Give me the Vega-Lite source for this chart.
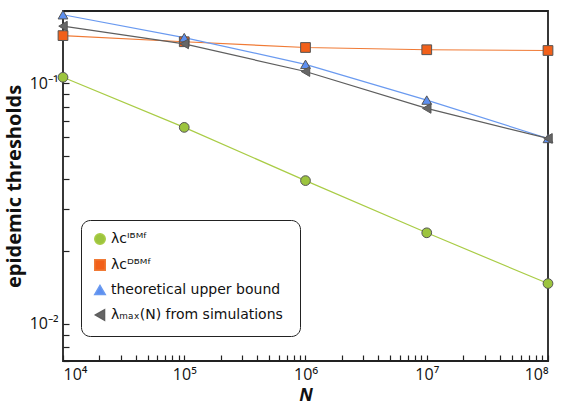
{
  "$schema": "https://vega.github.io/schema/vega-lite/v6.json",
  "width": 485,
  "height": 350,
  "padding": {"left": 4, "top": 8, "right": 5, "bottom": 0},
  "config": {
    "font": "Open Sans",
    "view": {"stroke": "#222", "strokeWidth": 1.8}
  },
  "data": {
    "values": [
      {"N": 10000, "v": 0.106, "s": "IBMF"},
      {"N": 100000, "v": 0.0656, "s": "IBMF"},
      {"N": 1000000, "v": 0.0394, "s": "IBMF"},
      {"N": 10000000, "v": 0.0239, "s": "IBMF"},
      {"N": 100000000, "v": 0.0147, "s": "IBMF"},
      {"N": 10000, "v": 0.158, "s": "DBMF"},
      {"N": 100000, "v": 0.149, "s": "DBMF"},
      {"N": 1000000, "v": 0.141, "s": "DBMF"},
      {"N": 10000000, "v": 0.138, "s": "DBMF"},
      {"N": 100000000, "v": 0.137, "s": "DBMF"},
      {"N": 10000, "v": 0.193, "s": "upper"},
      {"N": 100000, "v": 0.155, "s": "upper"},
      {"N": 1000000, "v": 0.120, "s": "upper"},
      {"N": 10000000, "v": 0.0852, "s": "upper"},
      {"N": 100000000, "v": 0.059, "s": "upper"},
      {"N": 10000, "v": 0.173, "s": "sim"},
      {"N": 100000, "v": 0.146, "s": "sim"},
      {"N": 1000000, "v": 0.112, "s": "sim"},
      {"N": 10000000, "v": 0.0787, "s": "sim"},
      {"N": 100000000, "v": 0.059, "s": "sim"}
    ]
  },
  "encoding": {
    "x": {"field": "N", "type": "quantitative",
      "scale": {"type": "log", "domain": [10000, 100000000]},
      "title": "N",
      "axis": {
        "orient": "bottom", "domain": false, "grid": false, "zindex": 1, "ticks": true,
        "values": [10000,20000,30000,40000,50000,60000,70000,80000,90000,100000,200000,300000,400000,500000,600000,700000,800000,900000,1000000,2000000,3000000,4000000,5000000,6000000,7000000,8000000,9000000,10000000,20000000,30000000,40000000,50000000,60000000,70000000,80000000,90000000,100000000],
        "labelExpr": "abs(log(datum.value)/LN10 - round(log(datum.value)/LN10)) < 0.001 ? '10' + ['⁰','¹','²','³','⁴','⁵','⁶','⁷','⁸','⁹'][round(log(datum.value)/LN10)] : ''",
        "tickSize": -6, "tickColor": "#222", "tickWidth": 1.2,
        "labelFontSize": 16, "labelColor": "#111", "labelPadding": 11,
        "titleFontSize": 18, "titleFontWeight": "bold", "titleFontStyle": "italic", "titleColor": "#111", "titlePadding": 4
      }},
    "y": {"field": "v", "type": "quantitative",
      "scale": {"type": "log", "domain": [0.007, 0.2]},
      "title": "epidemic thresholds",
      "axis": {
        "orient": "left", "domain": false, "grid": false, "zindex": 1, "ticks": true,
        "values": [0.007,0.008,0.009,0.01,0.02,0.03,0.04,0.05,0.06,0.07,0.08,0.09,0.1,0.2],
        "labelExpr": "abs(log(datum.value)/LN10 - round(log(datum.value)/LN10)) < 0.001 ? '10⁻' + ['⁰','¹','²','³','⁴','⁵','⁶','⁷','⁸','⁹'][-round(log(datum.value)/LN10)] : ''",
        "tickSize": -6, "tickColor": "#222", "tickWidth": 1.2,
        "labelFontSize": 16, "labelColor": "#111", "labelPadding": 11,
        "titleFontSize": 20, "titleFontWeight": "bold", "titleColor": "#111", "titlePadding": 5
      }}
  },
  "layer": [
    {
      "mark": {"type": "line", "strokeWidth": 1.2},
      "encoding": {
        "stroke": {"field": "s", "type": "nominal",
          "scale": {"domain": ["IBMF", "DBMF", "upper", "sim"], "range": ["#a9cc45", "#f07a35", "#6a9af0", "#5e5e5e"]},
          "legend": {
            "orient": "none", "legendX": 18, "legendY": 209, "title": null,
            "strokeColor": "#222", "cornerRadius": 9, "padding": 12, "fillColor": "white",
            "labelFont": "DejaVu Sans", "labelFontSize": 14, "labelLimit": 320, "labelColor": "#111", "symbolSize": 110, "rowPadding": 8,
            "labelExpr": "datum.value == 'IBMF' ? 'λcᴵᴮᴹᶠ' : datum.value == 'DBMF' ? 'λcᴰᴮᴹᶠ' : datum.value == 'upper' ? 'theoretical upper bound' : 'λₘₐₓ(N)  from simulations'"
          }}
      }
    },
    {
      "mark": {"type": "point", "filled": true, "opacity": 1, "size": 95, "stroke": "#555", "strokeWidth": 1},
      "encoding": {
        "fill": {"field": "s", "type": "nominal",
          "scale": {"domain": ["IBMF", "DBMF", "upper", "sim"], "range": ["#9cc43e", "#f2601a", "#5d8ff0", "#666666"]},
          "legend": {
            "orient": "none", "legendX": 18, "legendY": 209, "title": null,
            "strokeColor": "#222", "cornerRadius": 9, "padding": 12, "fillColor": "white",
            "labelFont": "DejaVu Sans", "labelFontSize": 14, "labelLimit": 320, "labelColor": "#111", "symbolSize": 110, "rowPadding": 8,
            "labelExpr": "datum.value == 'IBMF' ? 'λcᴵᴮᴹᶠ' : datum.value == 'DBMF' ? 'λcᴰᴮᴹᶠ' : datum.value == 'upper' ? 'theoretical upper bound' : 'λₘₐₓ(N)  from simulations'"
          }},
        "shape": {"field": "s", "type": "nominal",
          "scale": {"domain": ["IBMF", "DBMF", "upper", "sim"], "range": ["circle", "square", "triangle-up", "triangle-left"]},
          "legend": {
            "orient": "none", "legendX": 18, "legendY": 209, "title": null,
            "strokeColor": "#222", "cornerRadius": 9, "padding": 12, "fillColor": "white",
            "labelFont": "DejaVu Sans", "labelFontSize": 14, "labelLimit": 320, "labelColor": "#111", "symbolSize": 110, "rowPadding": 8,
            "labelExpr": "datum.value == 'IBMF' ? 'λcᴵᴮᴹᶠ' : datum.value == 'DBMF' ? 'λcᴰᴮᴹᶠ' : datum.value == 'upper' ? 'theoretical upper bound' : 'λₘₐₓ(N)  from simulations'"
          }}
      }
    }
  ]
}
